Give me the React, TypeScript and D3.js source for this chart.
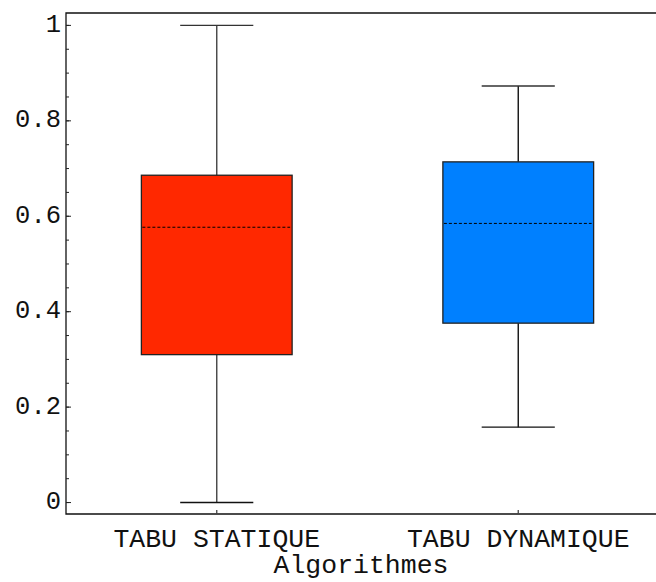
import React from "react";
import * as d3 from "d3";

const categories = ["TABU STATIQUE", "TABU DYNAMIQUE"];
const mins = [0.0, 0.158];
const q1s = [0.31, 0.376];
const medians = [0.577, 0.585];
const q3s = [0.686, 0.714];
const maxs = [1.0, 0.873];
const colors = ["#FF2800", "#0080FF"];
const majorTicks = [0, 0.2, 0.4, 0.6, 0.8, 1];
const xTitle = "Algorithmes";

const W = 656;
const H = 582;
const left = 66;
const right = 669;
const top = 13;
const bottom = 514;

export default function App() {
  const y = d3.scaleLinear().domain([-0.024, 1.026]).range([bottom, top]);
  const x = d3
    .scaleBand<string>()
    .domain(categories)
    .range([left, right])
    .paddingInner(0.5)
    .paddingOuter(0.25);
  const minorTicks = d3.range(0, 1.0001, 0.05);
  const font = "'Liberation Mono', 'Courier New', monospace";
  const fmt = (v: number) => (v === 0 ? "0" : v === 1 ? "1" : d3.format(".1f")(v));

  return (
    <svg
      width={W}
      height={H}
      style={{ position: "absolute", left: 0, top: 0, background: "#fff" }}
    >
      <rect x={0} y={0} width={W} height={H} fill="#fff" />
      {categories.map((c, i) => {
        const x0 = x(c)!;
        const bw = x.bandwidth();
        const cx = x0 + bw / 2;
        const capW = bw * 0.485;
        return (
          <g key={c}>
            <line x1={cx} x2={cx} y1={y(maxs[i])} y2={y(q3s[i])} stroke={i === 0 ? "#444" : "#111"} strokeWidth={1.4} />
            <line x1={cx} x2={cx} y1={y(q1s[i])} y2={y(mins[i])} stroke={i === 0 ? "#444" : "#111"} strokeWidth={1.4} />
            <line x1={cx - capW / 2} x2={cx + capW / 2} y1={y(maxs[i])} y2={y(maxs[i])} stroke="#333" strokeWidth={1.4} />
            <line x1={cx - capW / 2} x2={cx + capW / 2} y1={y(mins[i])} y2={y(mins[i])} stroke="#111" strokeWidth={1.4} />
            <rect
              x={x0}
              y={y(q3s[i])}
              width={bw}
              height={y(q1s[i]) - y(q3s[i])}
              fill={colors[i]}
              stroke="#222"
              strokeWidth={1.3}
            />
            <line
              x1={x0 + 1}
              x2={x0 + bw - 2}
              y1={y(medians[i])}
              y2={y(medians[i])}
              stroke="#000"
              strokeWidth={1}
              strokeDasharray="3,2"
            />
          </g>
        );
      })}
      {/* frame */}
      <path
        d={`M${right},${top}H${left}V${bottom}H${right}`}
        fill="none"
        stroke="#111"
        strokeWidth={1.3}
      />
      {/* y ticks */}
      {minorTicks.map((t, i) => (
        <line key={"m" + i} x1={left} x2={left + 3} y1={y(t)} y2={y(t)} stroke="#222" strokeWidth={1} />
      ))}
      {majorTicks.map((t) => (
        <g key={"M" + t}>
          <line x1={left} x2={left + 5} y1={y(t)} y2={y(t)} stroke="#222" strokeWidth={1} />
          <text
            x={left - 5}
            y={y(t)}
            textAnchor="end"
            dominantBaseline="central"
            fontFamily={font}
            fontSize={25.5}
            fill="#111"
          >
            {fmt(t)}
          </text>
        </g>
      ))}
      {/* x ticks */}
      {categories.map((c) => {
        const cx = x(c)! + x.bandwidth() / 2;
        return (
          <g key={"x" + c}>
            <line x1={cx} x2={cx} y1={bottom} y2={bottom - 4} stroke="#444" strokeWidth={1.3} />
            <text x={cx} y={546.5} textAnchor="middle" fontFamily={font} fontSize={26.5} fill="#111">
              {c}
            </text>
          </g>
        );
      })}
      <text x={(left + W) / 2} y={573} textAnchor="middle" fontFamily={font} fontSize={26.5} fill="#111">
        {xTitle}
      </text>
    </svg>
  );
}
